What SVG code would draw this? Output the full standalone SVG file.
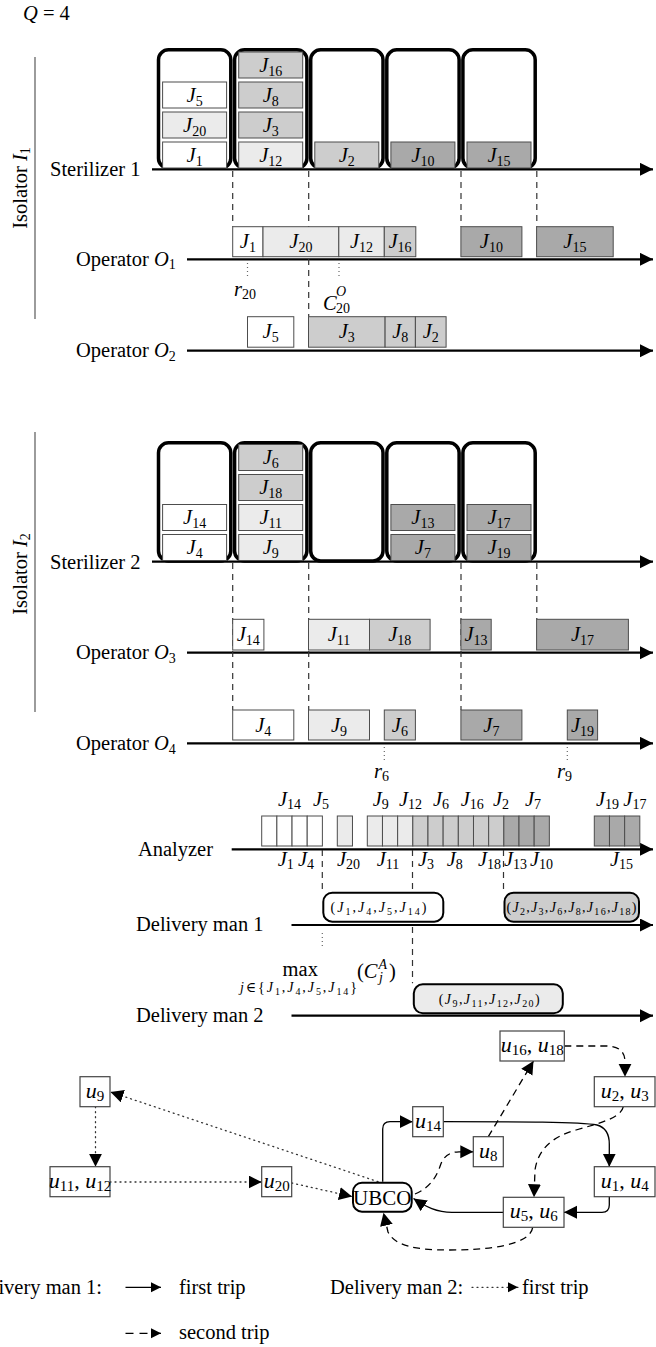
<svg xmlns="http://www.w3.org/2000/svg" width="656" height="1347" viewBox="0 0 656 1347">
<defs>
<style>
text{font-family:"Liberation Serif","Times New Roman","DejaVu Serif",serif;font-size:20.5px;fill:#000}
.i{font-style:italic}
.s{font-size:14px}
.xs{font-size:10px}
.g{font-size:22px}
.gs{font-size:15px}
.jb{stroke:#4d4d4d;stroke-width:1}
.w{fill:#fff}.l{fill:#ebebeb}.m{fill:#cdcdcd}.d{fill:#a9a9a9}
.ax{stroke:#000;stroke-width:2.2;fill:none;marker-end:url(#ah)}
.bat{fill:none;stroke:#000;stroke-width:3.5}
.vd{stroke:#333;stroke-width:1.2;stroke-dasharray:6 5;fill:none}
.vt{stroke:#666;stroke-width:1.2;stroke-dasharray:1 3;fill:none}
.iso{stroke:#666;stroke-width:1.3}
.dm{stroke:#000;stroke-width:2}
.nd{fill:#fff;stroke:#444;stroke-width:1.2}
.e1{fill:none;stroke:#000;stroke-width:1.3;marker-end:url(#ah)}
.e2{fill:none;stroke:#000;stroke-width:1.3;stroke-dasharray:7 5;marker-end:url(#ah)}
.e3{fill:none;stroke:#333;stroke-width:1.3;stroke-dasharray:1 4;stroke-linecap:round;marker-end:url(#ah)}
</style>
<marker id="ah" markerUnits="userSpaceOnUse" markerWidth="14" markerHeight="14" refX="13" refY="6.5" orient="auto"><path d="M0,0L13,6.5L0,13z" fill="#000"/></marker>
<marker id="ahs" markerUnits="userSpaceOnUse" markerWidth="11" markerHeight="11" refX="10" refY="5" orient="auto"><path d="M0,0L10,5L0,10z" fill="#000"/></marker>
</defs>

<g id="labels">
<text x="23" y="20"><tspan class="i">Q</tspan> = 4</text>
<line class="iso" x1="35" y1="57" x2="35" y2="319"/>
<text transform="translate(27,188) rotate(-90)" text-anchor="middle">Isolator <tspan class="i">I</tspan><tspan class="s" dy="3">1</tspan></text>
<line class="iso" x1="35" y1="432" x2="35" y2="712"/>
<text transform="translate(27,574) rotate(-90)" text-anchor="middle">Isolator <tspan class="i">I</tspan><tspan class="s" dy="3">2</tspan></text>
<text x="50" y="176">Sterilizer 1</text>
<text x="50" y="568.5">Sterilizer 2</text>
<text x="76" y="265.5">Operator <tspan class="i">O</tspan><tspan class="s" dy="3.5">1</tspan></text>
<text x="76" y="357">Operator <tspan class="i">O</tspan><tspan class="s" dy="3.5">2</tspan></text>
<text x="76" y="659">Operator <tspan class="i">O</tspan><tspan class="s" dy="3.5">3</tspan></text>
<text x="76" y="750">Operator <tspan class="i">O</tspan><tspan class="s" dy="3.5">4</tspan></text>
<text x="213" y="855.5" text-anchor="end">Analyzer</text>
<text x="136" y="931">Delivery man 1</text>
<text x="136" y="1021.5">Delivery man 2</text>
<text x="234" y="296"><tspan class="i">r</tspan><tspan class="s" dy="3">20</tspan></text>
<text x="323" y="309.5"><tspan class="i">C</tspan><tspan class="i s" x="336" dy="-14">O</tspan><tspan class="s" x="336" dy="17">20</tspan></text>
<text x="374" y="778"><tspan class="i">r</tspan><tspan class="s" dy="3">6</tspan></text>
<text x="557" y="778"><tspan class="i">r</tspan><tspan class="s" dy="3">9</tspan></text>
<text x="282.6" y="976">max</text>
<text class="s" x="240" y="992" textLength="117" lengthAdjust="spacing"><tspan class="i">j</tspan>∈{<tspan class="i">J</tspan><tspan class="xs" dy="2.5">1</tspan><tspan dy="-2.5">,</tspan><tspan class="i">J</tspan><tspan class="xs" dy="2.5">4</tspan><tspan dy="-2.5">,</tspan><tspan class="i">J</tspan><tspan class="xs" dy="2.5">5</tspan><tspan dy="-2.5">,</tspan><tspan class="i">J</tspan><tspan class="xs" dy="2.5">14</tspan><tspan dy="-2.5">}</tspan></text>
<text x="357" y="978">(<tspan class="i">C</tspan><tspan class="i s" x="378.5" dy="-9">A</tspan><tspan class="i s" x="379" dy="13">j</tspan><tspan x="389" dy="-4">)</tspan></text>
</g>

<g id="connectors">
<path class="ax" d="M152,169.3H653"/>
<path class="ax" d="M187,259.3H653"/>
<path class="ax" d="M187,350.7H653"/>
<path class="ax" d="M152,561.7H653"/>
<path class="ax" d="M187,652.7H653"/>
<path class="ax" d="M187,743.3H653"/>
<path class="ax" d="M231.7,849.3H653"/>
<path class="ax" d="M291.5,925H653"/>
<path class="ax" d="M291.5,1015.7H653"/>
<path class="vd" d="M232.7,171V226.7M308.7,171V316.7M461,171V226.7M536.8,171V226.7"/>
<path class="vd" d="M232.7,563V710M308.7,563V710M461,563V710M536.8,563V619.3"/>
<path class="vd" d="M322.3,850V891.7M412.5,850V983.3M503.5,850V891.7"/>
<path class="vt" d="M247.5,263V277M339,263V277M384.3,747V760M567.3,747V760M322.3,933V946"/>
<path class="e1" d="M382.7,1181.7V1129Q382.7,1121.7 390,1121.7H412.7"/>
<path class="e1" d="M443.3,1121.7C520,1121.7 580,1121.7 597,1125C606,1127.5 609.3,1134 609.3,1144V1166.7"/>
<path class="e1" d="M609.3,1196.7V1205Q609.3,1212.3 602,1212.3H564"/>
<path class="e1" d="M503.3,1212.3H452C437,1212.3 426,1207 413.5,1198.5"/>
<path class="e2" d="M415,1194C430,1188 437,1176 440.5,1165C443.5,1156 450,1152 459,1151.8H473.3"/>
<path class="e2" d="M488.3,1136.7L533.5,1061"/>
<path class="e2" d="M564.3,1046H606C618,1046 625,1051 625,1062V1076.7"/>
<path class="e2" d="M623.3,1106.7C621,1118 600,1123 576,1130C551,1137 538,1150 535,1170L534,1197.3"/>
<path class="e2" d="M532.7,1227.3C530,1245 490,1250 450,1250C415,1250 395,1246 388,1232L383.5,1212.7"/>
<path class="e3" d="M378,1181.7L110.5,1092"/>
<path class="e3" d="M95.5,1106.7V1166.7"/>
<path class="e3" d="M110,1182H261.7"/>
<path class="e3" d="M291.7,1183L352,1196.5"/>
</g>

<g id="sterilizer1">
<g id="s1-b1"><rect class="bat" x="158.5" y="49.8" width="72.3" height="118.5" rx="10"/></g>
<g id="s1-b2"><rect class="bat" x="234.6" y="49.8" width="72.3" height="118.5" rx="10"/></g>
<g id="s1-b3"><rect class="bat" x="310.7" y="49.8" width="72.3" height="118.5" rx="10"/></g>
<g id="s1-b4"><rect class="bat" x="386.8" y="49.8" width="72.3" height="118.5" rx="10"/></g>
<g id="s1-b5"><rect class="bat" x="462.9" y="49.8" width="72.3" height="118.5" rx="10"/></g>
<g id="s1-J1"><rect class="jb w" x="162.6" y="142" width="64" height="26"/><text x="194.6" y="161.5" text-anchor="middle"><tspan class="i">J</tspan><tspan class="s" dy="4">1</tspan></text></g>
<g id="s1-J20"><rect class="jb l" x="162.6" y="112" width="64" height="26"/><text x="194.6" y="131.5" text-anchor="middle"><tspan class="i">J</tspan><tspan class="s" dy="4">20</tspan></text></g>
<g id="s1-J5"><rect class="jb w" x="162.6" y="82" width="64" height="26"/><text x="194.6" y="101.5" text-anchor="middle"><tspan class="i">J</tspan><tspan class="s" dy="4">5</tspan></text></g>
<g id="s1-J12"><rect class="jb l" x="238.7" y="142" width="64" height="26"/><text x="270.7" y="161.5" text-anchor="middle"><tspan class="i">J</tspan><tspan class="s" dy="4">12</tspan></text></g>
<g id="s1-J3"><rect class="jb m" x="238.7" y="112" width="64" height="26"/><text x="270.7" y="131.5" text-anchor="middle"><tspan class="i">J</tspan><tspan class="s" dy="4">3</tspan></text></g>
<g id="s1-J8"><rect class="jb m" x="238.7" y="82" width="64" height="26"/><text x="270.7" y="101.5" text-anchor="middle"><tspan class="i">J</tspan><tspan class="s" dy="4">8</tspan></text></g>
<g id="s1-J16"><rect class="jb m" x="238.7" y="52" width="64" height="26"/><text x="270.7" y="71.5" text-anchor="middle"><tspan class="i">J</tspan><tspan class="s" dy="4">16</tspan></text></g>
<g id="s1-J2"><rect class="jb m" x="314.8" y="142" width="64" height="26"/><text x="346.8" y="161.5" text-anchor="middle"><tspan class="i">J</tspan><tspan class="s" dy="4">2</tspan></text></g>
<g id="s1-J10"><rect class="jb d" x="390.9" y="142" width="64" height="26"/><text x="422.9" y="161.5" text-anchor="middle"><tspan class="i">J</tspan><tspan class="s" dy="4">10</tspan></text></g>
<g id="s1-J15"><rect class="jb d" x="467" y="142" width="64" height="26"/><text x="499" y="161.5" text-anchor="middle"><tspan class="i">J</tspan><tspan class="s" dy="4">15</tspan></text></g>
</g>

<g id="operator1">
<g id="o1-J1"><rect class="jb w" x="232.7" y="226.7" width="30.3" height="30"/><text x="247.9" y="248.2" text-anchor="middle"><tspan class="i">J</tspan><tspan class="s" dy="4">1</tspan></text></g>
<g id="o1-J20"><rect class="jb l" x="263" y="226.7" width="75.8" height="30"/><text x="300.9" y="248.2" text-anchor="middle"><tspan class="i">J</tspan><tspan class="s" dy="4">20</tspan></text></g>
<g id="o1-J12"><rect class="jb l" x="338.8" y="226.7" width="45.5" height="30"/><text x="361.5" y="248.2" text-anchor="middle"><tspan class="i">J</tspan><tspan class="s" dy="4">12</tspan></text></g>
<g id="o1-J16"><rect class="jb m" x="384.3" y="226.7" width="31.5" height="30"/><text x="400" y="248.2" text-anchor="middle"><tspan class="i">J</tspan><tspan class="s" dy="4">16</tspan></text></g>
<g id="o1-J10"><rect class="jb d" x="460.9" y="226.7" width="61" height="30"/><text x="491.4" y="248.2" text-anchor="middle"><tspan class="i">J</tspan><tspan class="s" dy="4">10</tspan></text></g>
<g id="o1-J15"><rect class="jb d" x="536.6" y="226.7" width="76.6" height="30"/><text x="574.9" y="248.2" text-anchor="middle"><tspan class="i">J</tspan><tspan class="s" dy="4">15</tspan></text></g>
</g>

<g id="operator2">
<g id="o2-J5"><rect class="jb w" x="247.5" y="316.7" width="46.3" height="30.5"/><text x="270.6" y="338.3" text-anchor="middle"><tspan class="i">J</tspan><tspan class="s" dy="4">5</tspan></text></g>
<g id="o2-J3"><rect class="jb m" x="308.5" y="316.7" width="76.6" height="30.5"/><text x="346.8" y="338.3" text-anchor="middle"><tspan class="i">J</tspan><tspan class="s" dy="4">3</tspan></text></g>
<g id="o2-J8"><rect class="jb m" x="385.1" y="316.7" width="30.3" height="30.5"/><text x="400.2" y="338.3" text-anchor="middle"><tspan class="i">J</tspan><tspan class="s" dy="4">8</tspan></text></g>
<g id="o2-J2"><rect class="jb m" x="415.4" y="316.7" width="30.7" height="30.5"/><text x="430.8" y="338.3" text-anchor="middle"><tspan class="i">J</tspan><tspan class="s" dy="4">2</tspan></text></g>
</g>

<g id="sterilizer2">
<g id="s2-b1"><rect class="bat" x="158.5" y="442.75" width="72.3" height="118.2" rx="10"/></g>
<g id="s2-b2"><rect class="bat" x="234.6" y="442.75" width="72.3" height="118.2" rx="10"/></g>
<g id="s2-b3"><rect class="bat" x="310.7" y="442.75" width="72.3" height="118.2" rx="10"/></g>
<g id="s2-b4"><rect class="bat" x="386.8" y="442.75" width="72.3" height="118.2" rx="10"/></g>
<g id="s2-b5"><rect class="bat" x="462.9" y="442.75" width="72.3" height="118.2" rx="10"/></g>
<g id="s2-J4"><rect class="jb w" x="162.6" y="534.5" width="64" height="26"/><text x="194.6" y="554" text-anchor="middle"><tspan class="i">J</tspan><tspan class="s" dy="4">4</tspan></text></g>
<g id="s2-J14"><rect class="jb w" x="162.6" y="504.5" width="64" height="26"/><text x="194.6" y="524" text-anchor="middle"><tspan class="i">J</tspan><tspan class="s" dy="4">14</tspan></text></g>
<g id="s2-J9"><rect class="jb l" x="238.7" y="534.5" width="64" height="26"/><text x="270.7" y="554" text-anchor="middle"><tspan class="i">J</tspan><tspan class="s" dy="4">9</tspan></text></g>
<g id="s2-J11"><rect class="jb l" x="238.7" y="504.5" width="64" height="26"/><text x="270.7" y="524" text-anchor="middle"><tspan class="i">J</tspan><tspan class="s" dy="4">11</tspan></text></g>
<g id="s2-J18"><rect class="jb m" x="238.7" y="474.5" width="64" height="26"/><text x="270.7" y="494" text-anchor="middle"><tspan class="i">J</tspan><tspan class="s" dy="4">18</tspan></text></g>
<g id="s2-J6"><rect class="jb m" x="238.7" y="444.5" width="64" height="26"/><text x="270.7" y="464" text-anchor="middle"><tspan class="i">J</tspan><tspan class="s" dy="4">6</tspan></text></g>
<g id="s2-J7"><rect class="jb d" x="390.9" y="534.5" width="64" height="26"/><text x="422.9" y="554" text-anchor="middle"><tspan class="i">J</tspan><tspan class="s" dy="4">7</tspan></text></g>
<g id="s2-J13"><rect class="jb d" x="390.9" y="504.5" width="64" height="26"/><text x="422.9" y="524" text-anchor="middle"><tspan class="i">J</tspan><tspan class="s" dy="4">13</tspan></text></g>
<g id="s2-J19"><rect class="jb d" x="467" y="534.5" width="64" height="26"/><text x="499" y="554" text-anchor="middle"><tspan class="i">J</tspan><tspan class="s" dy="4">19</tspan></text></g>
<g id="s2-J17"><rect class="jb d" x="467" y="504.5" width="64" height="26"/><text x="499" y="524" text-anchor="middle"><tspan class="i">J</tspan><tspan class="s" dy="4">17</tspan></text></g>
</g>

<g id="operator3">
<g id="o3-J14"><rect class="jb w" x="232.7" y="619.3" width="31.2" height="30.7"/><text x="248.3" y="641" text-anchor="middle"><tspan class="i">J</tspan><tspan class="s" dy="4">14</tspan></text></g>
<g id="o3-J11"><rect class="jb l" x="308.5" y="619.3" width="61" height="30.7"/><text x="339" y="641" text-anchor="middle"><tspan class="i">J</tspan><tspan class="s" dy="4">11</tspan></text></g>
<g id="o3-J18"><rect class="jb m" x="369.5" y="619.3" width="60.6" height="30.7"/><text x="399.8" y="641" text-anchor="middle"><tspan class="i">J</tspan><tspan class="s" dy="4">18</tspan></text></g>
<g id="o3-J13"><rect class="jb d" x="460.9" y="619.3" width="30.3" height="30.7"/><text x="476" y="641" text-anchor="middle"><tspan class="i">J</tspan><tspan class="s" dy="4">13</tspan></text></g>
<g id="o3-J17"><rect class="jb d" x="536.6" y="619.3" width="91.8" height="30.7"/><text x="582.5" y="641" text-anchor="middle"><tspan class="i">J</tspan><tspan class="s" dy="4">17</tspan></text></g>
</g>

<g id="operator4">
<g id="o4-J4"><rect class="jb w" x="232.7" y="710" width="61.1" height="30"/><text x="263.2" y="731.5" text-anchor="middle"><tspan class="i">J</tspan><tspan class="s" dy="4">4</tspan></text></g>
<g id="o4-J9"><rect class="jb l" x="308.5" y="710" width="61" height="30"/><text x="339" y="731.5" text-anchor="middle"><tspan class="i">J</tspan><tspan class="s" dy="4">9</tspan></text></g>
<g id="o4-J6"><rect class="jb m" x="384.3" y="710" width="31.1" height="30"/><text x="399.9" y="731.5" text-anchor="middle"><tspan class="i">J</tspan><tspan class="s" dy="4">6</tspan></text></g>
<g id="o4-J7"><rect class="jb d" x="460.9" y="710" width="61" height="30"/><text x="491.4" y="731.5" text-anchor="middle"><tspan class="i">J</tspan><tspan class="s" dy="4">7</tspan></text></g>
<g id="o4-J19"><rect class="jb d" x="567.3" y="710" width="30.3" height="30"/><text x="582.5" y="731.5" text-anchor="middle"><tspan class="i">J</tspan><tspan class="s" dy="4">19</tspan></text></g>
</g>

<g id="analyzer">
<rect class="jb w" x="261.7" y="816" width="15.17" height="30"/>
<rect class="jb w" x="276.87" y="816" width="15.17" height="30"/>
<rect class="jb w" x="292.04" y="816" width="15.17" height="30"/>
<rect class="jb w" x="307.21" y="816" width="15.17" height="30"/>
<rect class="jb l" x="337.3" y="816" width="15.17" height="30"/>
<rect class="jb l" x="367.3" y="816" width="15.17" height="30"/>
<rect class="jb l" x="382.47" y="816" width="15.17" height="30"/>
<rect class="jb l" x="397.64" y="816" width="15.17" height="30"/>
<rect class="jb m" x="412.81" y="816" width="15.17" height="30"/>
<rect class="jb m" x="427.98" y="816" width="15.17" height="30"/>
<rect class="jb m" x="443.15" y="816" width="15.17" height="30"/>
<rect class="jb m" x="458.32" y="816" width="15.17" height="30"/>
<rect class="jb m" x="473.49" y="816" width="15.17" height="30"/>
<rect class="jb m" x="488.66" y="816" width="15.17" height="30"/>
<rect class="jb d" x="503.83" y="816" width="15.17" height="30"/>
<rect class="jb d" x="519" y="816" width="15.17" height="30"/>
<rect class="jb d" x="534.17" y="816" width="15.17" height="30"/>
<rect class="jb d" x="594.3" y="816" width="15.17" height="30"/>
<rect class="jb d" x="609.47" y="816" width="15.17" height="30"/>
<rect class="jb d" x="624.64" y="816" width="15.17" height="30"/>
<text x="278" y="806"><tspan class="i">J</tspan><tspan class="s" dy="3">14</tspan></text>
<text x="313" y="806"><tspan class="i">J</tspan><tspan class="s" dy="3">5</tspan></text>
<text x="372.7" y="806"><tspan class="i">J</tspan><tspan class="s" dy="3">9</tspan></text>
<text x="399" y="806"><tspan class="i">J</tspan><tspan class="s" dy="3">12</tspan></text>
<text x="433" y="806"><tspan class="i">J</tspan><tspan class="s" dy="3">6</tspan></text>
<text x="460.7" y="806"><tspan class="i">J</tspan><tspan class="s" dy="3">16</tspan></text>
<text x="493" y="806"><tspan class="i">J</tspan><tspan class="s" dy="3">2</tspan></text>
<text x="525" y="806"><tspan class="i">J</tspan><tspan class="s" dy="3">7</tspan></text>
<text x="596" y="806"><tspan class="i">J</tspan><tspan class="s" dy="3">19</tspan></text>
<text x="623.3" y="806"><tspan class="i">J</tspan><tspan class="s" dy="3">17</tspan></text>
<text x="277.7" y="866"><tspan class="i">J</tspan><tspan class="s" dy="3">1</tspan></text>
<text x="298" y="866"><tspan class="i">J</tspan><tspan class="s" dy="3">4</tspan></text>
<text x="337" y="866"><tspan class="i">J</tspan><tspan class="s" dy="3">20</tspan></text>
<text x="376.7" y="866"><tspan class="i">J</tspan><tspan class="s" dy="3">11</tspan></text>
<text x="418" y="866"><tspan class="i">J</tspan><tspan class="s" dy="3">3</tspan></text>
<text x="446.7" y="866"><tspan class="i">J</tspan><tspan class="s" dy="3">8</tspan></text>
<text x="478" y="866"><tspan class="i">J</tspan><tspan class="s" dy="3">18</tspan></text>
<text x="504" y="866"><tspan class="i">J</tspan><tspan class="s" dy="3">13</tspan></text>
<text x="530" y="866"><tspan class="i">J</tspan><tspan class="s" dy="3">10</tspan></text>
<text x="610" y="866"><tspan class="i">J</tspan><tspan class="s" dy="3">15</tspan></text>
</g>

<g id="delivery">
<g id="dm1-trip1"><rect class="dm w" x="323.3" y="892.7" width="120" height="29" rx="9"/><text class="s" x="330.5" y="912" textLength="96" lengthAdjust="spacing">(<tspan class="i">J</tspan><tspan class="xs" dy="2.5">1</tspan><tspan dy="-2.5">,</tspan><tspan class="i">J</tspan><tspan class="xs" dy="2.5">4</tspan><tspan dy="-2.5">,</tspan><tspan class="i">J</tspan><tspan class="xs" dy="2.5">5</tspan><tspan dy="-2.5">,</tspan><tspan class="i">J</tspan><tspan class="xs" dy="2.5">14</tspan><tspan dy="-2.5">)</tspan></text></g>
<g id="dm1-trip2"><rect class="dm m" x="504.5" y="892.7" width="134.5" height="29" rx="9"/><text class="s" x="506.5" y="912" textLength="130" lengthAdjust="spacing">(<tspan class="i">J</tspan><tspan class="xs" dy="2.5">2</tspan><tspan dy="-2.5">,</tspan><tspan class="i">J</tspan><tspan class="xs" dy="2.5">3</tspan><tspan dy="-2.5">,</tspan><tspan class="i">J</tspan><tspan class="xs" dy="2.5">6</tspan><tspan dy="-2.5">,</tspan><tspan class="i">J</tspan><tspan class="xs" dy="2.5">8</tspan><tspan dy="-2.5">,</tspan><tspan class="i">J</tspan><tspan class="xs" dy="2.5">16</tspan><tspan dy="-2.5">,</tspan><tspan class="i">J</tspan><tspan class="xs" dy="2.5">18</tspan><tspan dy="-2.5">)</tspan></text></g>
<g id="dm2-trip1"><rect class="dm l" x="413.8" y="984.3" width="149" height="29" rx="9"/><text class="s" x="438.7" y="1004" textLength="101" lengthAdjust="spacing">(<tspan class="i">J</tspan><tspan class="xs" dy="2.5">9</tspan><tspan dy="-2.5">,</tspan><tspan class="i">J</tspan><tspan class="xs" dy="2.5">11</tspan><tspan dy="-2.5">,</tspan><tspan class="i">J</tspan><tspan class="xs" dy="2.5">12</tspan><tspan dy="-2.5">,</tspan><tspan class="i">J</tspan><tspan class="xs" dy="2.5">20</tspan><tspan dy="-2.5">)</tspan></text></g>
</g>

<g id="graph">
<g id="n-u9"><rect class="nd" x="80" y="1076.7" width="30" height="30"/><text class="g" x="95" y="1097.5" text-anchor="middle"><tspan class="i">u</tspan><tspan class="gs" dy="3">9</tspan></text></g>
<g id="n-u11u12"><rect class="nd" x="50" y="1166.7" width="60" height="30"/><text class="g" x="80" y="1187.7" text-anchor="middle"><tspan class="i">u</tspan><tspan class="gs" dy="3">11</tspan><tspan dy="-3">, </tspan><tspan class="i">u</tspan><tspan class="gs" dy="3">12</tspan></text></g>
<g id="n-u20"><rect class="nd" x="261.7" y="1166.7" width="30" height="30"/><text class="g" x="276.7" y="1187.7" text-anchor="middle"><tspan class="i">u</tspan><tspan class="gs" dy="3">20</tspan></text></g>
<g id="n-ubco"><rect class="dm w" x="353" y="1182.7" width="58.7" height="29" rx="9"/><text x="382.3" y="1204.5" text-anchor="middle" style="font-size:21px">UBCO</text></g>
<g id="n-u14"><rect class="nd" x="412.7" y="1106.7" width="30.6" height="30"/><text class="g" x="428" y="1127.7" text-anchor="middle"><tspan class="i">u</tspan><tspan class="gs" dy="3">14</tspan></text></g>
<g id="n-u8"><rect class="nd" x="473.3" y="1136.7" width="30" height="30"/><text class="g" x="488.3" y="1157.7" text-anchor="middle"><tspan class="i">u</tspan><tspan class="gs" dy="3">8</tspan></text></g>
<g id="n-u16u18"><rect class="nd" x="500" y="1031" width="64.3" height="30"/><text class="g" x="532.2" y="1052" text-anchor="middle"><tspan class="i">u</tspan><tspan class="gs" dy="3">16</tspan><tspan dy="-3">, </tspan><tspan class="i">u</tspan><tspan class="gs" dy="3">18</tspan></text></g>
<g id="n-u2u3"><rect class="nd" x="594.3" y="1076.7" width="60.7" height="30"/><text class="g" x="624.7" y="1097.7" text-anchor="middle"><tspan class="i">u</tspan><tspan class="gs" dy="3">2</tspan><tspan dy="-3">, </tspan><tspan class="i">u</tspan><tspan class="gs" dy="3">3</tspan></text></g>
<g id="n-u1u4"><rect class="nd" x="594.3" y="1166.7" width="60.7" height="30"/><text class="g" x="624.7" y="1187.7" text-anchor="middle"><tspan class="i">u</tspan><tspan class="gs" dy="3">1</tspan><tspan dy="-3">, </tspan><tspan class="i">u</tspan><tspan class="gs" dy="3">4</tspan></text></g>
<g id="n-u5u6"><rect class="nd" x="503.3" y="1197.3" width="60.7" height="30"/><text class="g" x="533.7" y="1218.3" text-anchor="middle"><tspan class="i">u</tspan><tspan class="gs" dy="3">5</tspan><tspan dy="-3">, </tspan><tspan class="i">u</tspan><tspan class="gs" dy="3">6</tspan></text></g>
</g>

<g id="legend">
<text x="102" y="1293.5" text-anchor="end">Delivery man 1:</text>
<path d="M125.5,1287.3H161" stroke="#000" stroke-width="1.3" marker-end="url(#ahs)"/>
<text x="179" y="1293.5">first trip</text>
<text x="330" y="1293.5">Delivery man 2:</text>
<path d="M472,1287.3H518" stroke="#333" stroke-width="1.3" stroke-dasharray="1 4" stroke-linecap="round" marker-end="url(#ahs)"/>
<text x="522" y="1293.5">first trip</text>
<path d="M125.5,1333.3H161" stroke="#000" stroke-width="1.3" stroke-dasharray="8 6" marker-end="url(#ahs)"/>
<text x="179" y="1339">second trip</text>
</g>
</svg>
